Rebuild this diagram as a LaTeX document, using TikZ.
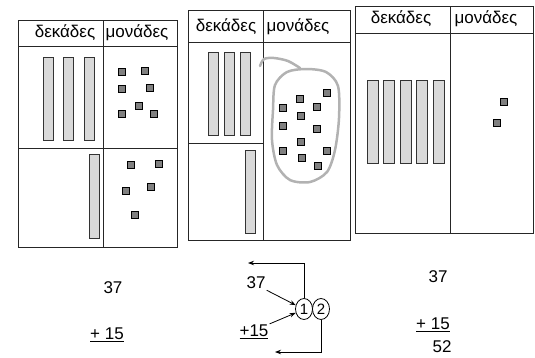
\documentclass[tikz,border=0pt]{standalone}
\usepackage{fontspec}
\setmainfont{Liberation Sans}
\usetikzlibrary{positioning,arrows.meta,shapes.geometric}

\begin{document}
\begin{tikzpicture}[
  x=1pt, y=-1pt,
  font=\fontsize{17}{19}\selectfont,
  >={Stealth[length=6pt,width=4.5pt]},
  frame/.style={draw=black!85, line width=0.8pt},
  ten/.style={draw=black!80, fill=black!15, line width=0.7pt},
  unit/.style={draw=black, fill=black!50, line width=0.6pt, minimum size=7pt,
               inner sep=0pt},
  head/.style={inner sep=1pt},
  num/.style={font=\fontsize{17}{19}\selectfont, inner sep=1pt},
  digit/.style={draw, ellipse, line width=0.8pt, minimum width=17pt,
                minimum height=21pt, inner sep=0pt, font=\fontsize{15}{17}\selectfont},
  ar/.style={->, line width=0.8pt},
  circled/.style={draw=black!30, line width=2.5pt, line cap=round},
]
  \useasboundingbox (0,0) rectangle (535,357);

  % first table
  \draw[frame] (18,20) rectangle (177,247);
  \draw[frame] (18,46) -- (177,46);
  \draw[frame] (103,20) -- (103,247);
  \draw[frame] (18,148) -- (177,148);
  \node[head] (h1t) at (65,33) {δεκάδες};
  \node[head] (h1u) at (137,33) {μονάδες};
  \foreach \x in {43,63,84}
    \draw[ten] (\x,57) rectangle ++(10,83);
  \draw[ten] (89,154) rectangle ++(10,84);
  \foreach \x/\y [count=\i] in {122/72,145/71,122/89,150/88,139/106,122/114,154/114}
    \node[unit] (a\i) at (\x,\y) {};
  \foreach \x/\y [count=\i] in {131/165,159/164,126/191,151/187,135/215}
    \node[unit] (b\i) at (\x,\y) {};

  % second table
  \draw[frame] (188,10) rectangle (350,240);
  \draw[frame] (188,42) -- (350,42);
  \draw[frame] (263,10) -- (263,240);
  \draw[frame] (188,143) -- (263,143);
  \node[head] (h2t) at (226,27) {δεκάδες};
  \node[head] (h2u) at (298,27) {μονάδες};
  \foreach \x in {208,224,240}
    \draw[ten] (\x,52) rectangle ++(10,83);
  \draw[ten] (245,150) rectangle ++(10,83);
  \draw[circled] plot[smooth cycle] coordinates {(275,85) (287,72) (306,69)
    (326,72) (338,86) (339,118) (335,150) (327,172) (310,182) (290,180)
    (277,165) (272,140) (273,110)};
  \draw[circled] plot[smooth] coordinates {(260,66) (264,59) (274,58)
    (288,61) (300,68)};
  \foreach \x/\y [count=\i] in {327/93,300/99,283/108,317/107,301/116,283/126,
                                317/129,301/142,283/151,327/151,302/158,318/166}
    \node[unit] (c\i) at (\x,\y) {};

  % third table
  \draw[frame] (355,6) rectangle (533,233);
  \draw[frame] (355,33) -- (533,33);
  \draw[frame] (450,6) -- (450,233);
  \node[head] (h3t) at (401,19) {δεκάδες};
  \node[head] (h3u) at (486,19) {μονάδες};
  \foreach \x in {367,383,400,416,433}
    \draw[ten] (\x,80) rectangle ++(11,83);
  \node[unit] (d1u) at (504,102) {};
  \node[unit] (d2u) at (497,123) {};

  % sums
  \node[num] (l37) at (113,288) {37};
  \node[num] (l15) at (107,335) {\underline{+ 15}};

  \node[num] (m37) at (256,283) {37};
  \node[num] (m15) at (254,332) {\underline{+15}};
  \node[digit] (e1) at (304,309) {1};
  \node[digit] (e2) at (321,309) {2};
  \coordinate (up) at (248,263);
  \coordinate (down) at (275,352);
  \draw[ar] (m37.south east) -- (e1.155);
  \draw[ar] (m15.north east) -- (e1.205);
  \draw[ar] (e1.north) |- (up);
  \draw[ar] (e2.south) |- (down);

  \node[num] (r37) at (438,277) {37};
  \node[num] (r15) at (433,325) {\underline{+ 15}};
  \node[num] (r52) at (442,347) {52};
\end{tikzpicture}
\end{document}
